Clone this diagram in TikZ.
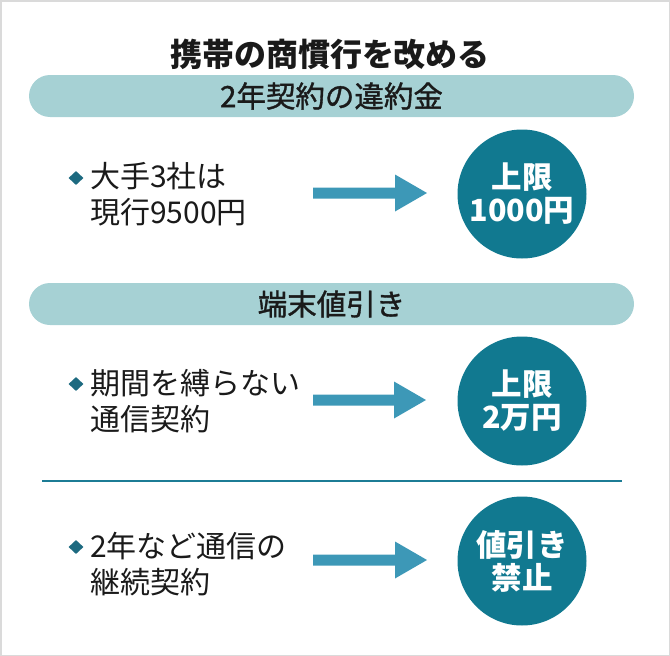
\documentclass[tikz,border=0pt]{standalone}
\usepackage{fontspec}
\setmainfont{Noto Sans CJK JP}
\newfontfamily\medfont{Noto Sans CJK JP}[FakeBold=1.2]
\usetikzlibrary{shapes.geometric,calc}
\definecolor{bannerc}{HTML}{A6D1D4}
\definecolor{arrowc}{HTML}{3D98B7}
\definecolor{circc}{HTML}{117990}
\definecolor{dotc}{HTML}{1D6A80}
\definecolor{rulec}{HTML}{1C7C95}
\definecolor{inkc}{HTML}{1A1A1A}
\definecolor{framec}{HTML}{DADADA}
\tikzset{
 titletext/.style={font=\bfseries\fontsize{32}{36}\selectfont, text=inkc, inner sep=0},
 banner/.style={fill=bannerc, rounded corners=21pt, minimum width=605pt, minimum height=42pt, inner sep=0, font=\medfont\fontsize{29.5}{34}\selectfont, text=inkc},
 bodytext/.style={font=\fontsize{30}{36}\selectfont, text=inkc, align=left, anchor=west, inner sep=0},
 bullet/.style={diamond, fill=dotc, minimum width=15pt, minimum height=14pt, inner sep=0},
 badge/.style={circle, fill=circc, minimum size=129pt, inner sep=0, text=white, align=center, font=\bfseries\fontsize{30.5}{33}\selectfont},
 arrowfill/.style={fill=arrowc},
 rulestyle/.style={draw=rulec, line width=2pt},
 framestyle/.style={draw=framec, line width=1.5pt}
}
\newcommand\blockarrow[2]{\fill[arrowfill] ($(#1)+(0,-5.5)$) -- ($(#2)+(-32,-5.5)$) -- ($(#2)+(-32,-18.5)$) -- (#2) -- ($(#2)+(-32,18.5)$) -- ($(#2)+(-32,5.5)$) -- ($(#1)+(0,5.5)$) -- cycle;}
\begin{document}
\begin{tikzpicture}[x=1pt,y=-1pt]
\useasboundingbox (0,0) rectangle (670,656);
\draw[framestyle] (0.75,0.75) rectangle (669.25,655.25);
\node[titletext] (title) at (330,54) {携帯の商慣行を改める};
% section 1
\node[banner] (b1) at (331.5,96) {2年契約の違約金};
\node[bullet] (d1) at (76,178) {};
\node[bodytext] (t1) at (90,194.5) {大手3社は\\現行9500円};
\coordinate (a1s) at (313,193);
\coordinate (a1e) at (427,193);
\blockarrow{a1s}{a1e}
\node[badge] (c1) at (522,194) {上限\\1000円};
% section 2
\node[banner] (b2) at (331.5,304) {端末値引き};
\node[bullet] (d2) at (76,384) {};
\node[bodytext] (t2) at (90,401) {期間を縛らない\\通信契約};
\coordinate (a2s) at (313,400);
\coordinate (a2e) at (426,400);
\blockarrow{a2s}{a2e}
\node[badge] (c2) at (522,401) {上限\\2万円};
% rule
\coordinate (r1) at (42,481);
\coordinate (r2) at (622,481);
\draw[rulestyle] (r1) -- (r2);
% row 3
\node[bullet] (d3) at (76,547) {};
\node[bodytext] (t3) at (90,564.5) {2年など通信の\\継続契約};
\coordinate (a3s) at (313,560);
\coordinate (a3e) at (427,560);
\blockarrow{a3s}{a3e}
\node[badge] (c3) at (522,561) {値引き\\禁止};
\end{tikzpicture}
\end{document}
